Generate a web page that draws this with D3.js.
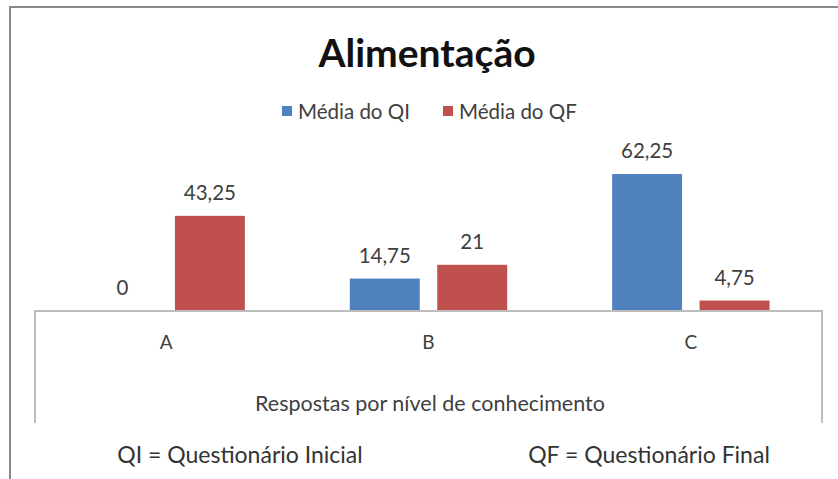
<!DOCTYPE html>
<html>
<head>
<meta charset="utf-8">
<script src="https://cdn.jsdelivr.net/npm/d3@7.9.0/dist/d3.min.js"></script>
<style>
  body { margin: 0; background: #fff; }
  svg { display: block; font-family: Lato, 'Open Sans', sans-serif; }
</style>
</head>
<body>
<div id="chart"></div>
<script>
const categories = ['A', 'B', 'C'];
const seriesNames = ['Média do QI', 'Média do QF'];
const qiValues = [0, 14.75, 62.25];
const qfValues = [43.25, 21, 4.75];
const seriesColors = ['#4F81BD', '#C0504D'];

const width = 838;
const height = 479;
const plot = { left: 35, right: 822, top: 157, bottom: 311 };

const svg = d3.select('#chart')
  .append('svg')
  .attr('width', width)
  .attr('height', height);

// outer frame (only left and top edges are inside the picture)
svg.append('rect')
  .attr('x', 10).attr('y', 7)
  .attr('width', width).attr('height', height)
  .attr('fill', 'none')
  .attr('stroke', '#8a8a8a')
  .attr('stroke-width', 2);

const rows = categories.map((c, i) => ({
  category: c,
  values: [qiValues[i], qfValues[i]],
}));

const x0 = d3.scaleBand()
  .domain(categories)
  .range([plot.left, plot.right]);

const x1 = d3.scaleBand()
  .domain(seriesNames)
  .range([0, x0.bandwidth()])
  .paddingInner(0.2)
  .paddingOuter(0.6);

const y = d3.scaleLinear()
  .domain([0, 70])
  .range([plot.bottom, plot.top]);

const fmt = d3.formatLocale({ decimal: ',', thousands: '.', grouping: [3], currency: ['', ''] }).format('~');

svg.append('text')
  .attr('x', 427).attr('y', 67)
  .attr('text-anchor', 'middle')
  .attr('font-size', 39)
  .attr('font-weight', 'bold')
  .attr('fill', '#111')
  .text('Alimentação');

// legend
const legend = svg.append('g');
const legendX = [282, 443];
seriesNames.forEach((name, i) => {
  legend.append('rect')
    .attr('x', legendX[i]).attr('y', 106)
    .attr('width', 10).attr('height', 10)
    .attr('fill', seriesColors[i]);
  legend.append('text')
    .attr('x', legendX[i] + 16).attr('y', 119)
    .attr('font-size', 20.5)
    .attr('fill', '#404040')
    .text(name);
});

const groups = svg.append('g')
  .selectAll('g')
  .data(rows)
  .join('g')
  .attr('transform', (d) => `translate(${x0(d.category)},0)`);

groups.selectAll('rect')
  .data((d) => d.values.map((v, i) => ({ key: seriesNames[i], value: v, idx: i })))
  .join('rect')
  .attr('x', (d) => x1(d.key))
  .attr('y', (d) => y(d.value))
  .attr('width', x1.bandwidth())
  .attr('height', (d) => y(0) - y(d.value))
  .attr('fill', (d) => seriesColors[d.idx]);

groups.selectAll('text')
  .data((d) => d.values.map((v, i) => ({ key: seriesNames[i], value: v })))
  .join('text')
  .attr('x', (d) => x1(d.key) + x1.bandwidth() / 2)
  .attr('y', (d) => y(d.value) - 16)
  .attr('text-anchor', 'middle')
  .attr('font-size', 20.5)
  .attr('fill', '#404040')
  .text((d) => fmt(d.value));

// category axis with box lines
const xAxis = svg.append('g')
  .attr('transform', `translate(0,${plot.bottom})`)
  .call(d3.axisBottom(x0).tickSize(0).tickPadding(25));
xAxis.select('.domain').remove();
xAxis.selectAll('text')
  .attr('font-family', 'Lato, sans-serif')
  .attr('font-size', 19)
  .attr('fill', '#404040');

svg.append('path')
  .attr('d', `M${plot.left},423V${plot.bottom}H${plot.right}V423`)
  .attr('fill', 'none')
  .attr('stroke', '#bdbdbd')
  .attr('stroke-width', 2);

svg.append('text')
  .attr('x', 430).attr('y', 411)
  .attr('text-anchor', 'middle')
  .attr('font-size', 21.5)
  .attr('fill', '#404040')
  .text('Respostas por nível de conhecimento');

svg.append('text')
  .attr('x', 240).attr('y', 463)
  .attr('text-anchor', 'middle')
  .attr('font-size', 23)
  .attr('fill', '#333')
  .text('QI = Questionário Inicial');

svg.append('text')
  .attr('x', 649).attr('y', 463)
  .attr('text-anchor', 'middle')
  .attr('font-size', 23)
  .attr('fill', '#333')
  .text('QF = Questionário Final');
</script>
</body>
</html>
